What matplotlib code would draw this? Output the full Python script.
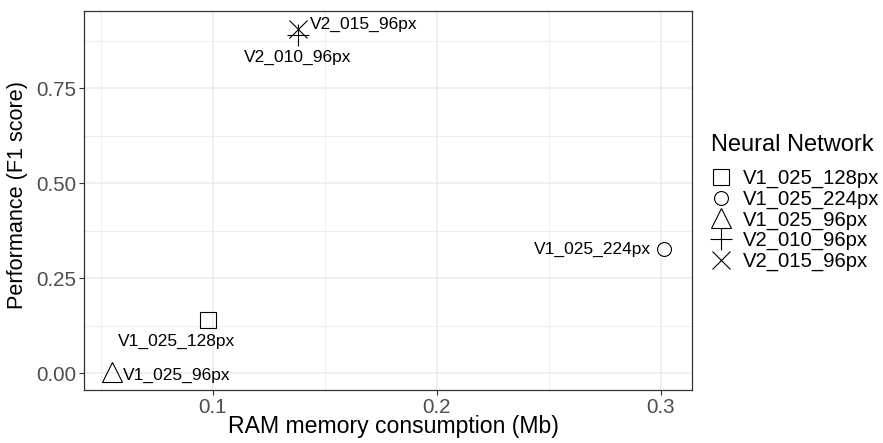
import matplotlib
matplotlib.use("Agg")
import matplotlib.pyplot as plt

plt.rcParams['font.family'] = ['Liberation Sans', 'DejaVu Sans']

# data
networks = ['V1_025_128px', 'V1_025_224px', 'V1_025_96px', 'V2_010_96px', 'V2_015_96px']
ram_mb = [0.098, 0.3013, 0.0552, 0.138, 0.138]
f1_score = [0.139, 0.328, 0.003, 0.890, 0.905]

xticks = [0.1, 0.2, 0.3]
yticks = [0.0, 0.25, 0.50, 0.75]
ytick_labels = ['0.00', '0.25', '0.50', '0.75']

# ggplot shapes 0..4 and their sizes (pt)
markers = ['s', 'o', '^', '+', 'x']
msizes = [11.5, 10.0, 14.0, 16.5, 12.5]
# label offsets in points and alignment
label_pos = [((-22.8, -15.4), 'center'),
             ((-9.4, -0.7), 'right'),
             ((7.9, -2.2), 'left'),
             ((0, -15.8), 'center'),
             ((8.6, 3.6), 'left')]

fig = plt.figure(figsize=(8.83, 4.43), dpi=100)
ax = fig.add_axes([84/883, 53/443, 607.7/883, 379/443])

for i in range(len(networks)):
    ax.plot(ram_mb[i], f1_score[i], linestyle='none', marker=markers[i],
            markersize=msizes[i], markerfacecolor='none', markeredgecolor='black',
            markeredgewidth=0.8, label=networks[i], zorder=3)
    off, ha = label_pos[i]
    ax.annotate(networks[i], (ram_mb[i], f1_score[i]), xytext=off,
                textcoords='offset points', ha=ha, va='center', fontsize=12.5,
                color='black')

ax.set_xlim(0.0425, 0.3138)
ax.set_ylim(-0.044, 0.9534)

ax.set_xticks(xticks)
ax.set_xticklabels([str(t) for t in xticks])
ax.set_yticks(yticks)
ax.set_yticklabels(ytick_labels)
ax.set_xticks([0.05, 0.15, 0.25], minor=True)
ax.set_yticks([0.125, 0.375, 0.625, 0.875], minor=True)

ax.grid(which='major', color='#EBEBEB', linewidth=1.1, zorder=0)
ax.grid(which='minor', color='#EBEBEB', linewidth=0.6, zorder=0)
ax.set_axisbelow(True)

for s in ax.spines.values():
    s.set_color('#333333')
    s.set_linewidth(0.9)

ax.tick_params(which='major', length=3.5, width=0.8, color='#333333',
               labelsize=14.8, labelcolor='#4D4D4D', pad=2)
ax.tick_params(which='minor', length=0)

ax.set_xlabel('RAM memory consumption (Mb)', fontsize=16.6, va='center')
ax.set_ylabel('Performance (F1 score)', fontsize=15.6, va='center')
ax.xaxis.set_label_coords(0.51, -0.097)
ax.yaxis.set_label_coords(-0.109, 0.515)

fig.text(711/883, 1 - 145/443, 'Neural Network', fontsize=17, ha='left', va='center')
leg = ax.legend(loc='upper left',
                bbox_to_anchor=(708/883, 1 - 169/443), bbox_transform=fig.transFigure,
                frameon=False, fontsize=14.6,
                labelspacing=0.07, handlelength=1.3, handletextpad=0.4,
                borderpad=0, borderaxespad=0, markerscale=1.0)

fig.savefig('out.png', dpi=100)
